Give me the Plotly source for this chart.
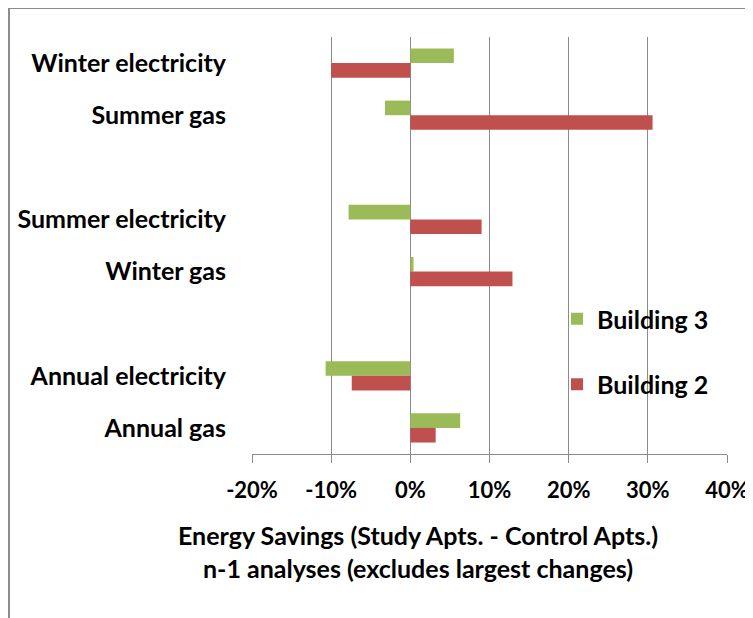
import plotly.graph_objects as go

categories = ["Winter electricity", "Summer gas", " ", "Summer electricity", "Winter gas", "  ",
              "Annual electricity", "Annual gas"]
building3 = [5.5, -3.2, None, -7.8, 0.4, None, -10.7, 6.3]
building2 = [-10.0, 30.6, None, 9.0, 12.9, None, -7.4, 3.2]
x_ticks = [-20, -10, 0, 10, 20, 30, 40]
x_tick_labels = ["-20%", "-10%", "0%", "10%", "20%", "30%", "40%"]

OFF = 8  # page body margin
W, H = 753 - OFF, 618 - OFF
# plot area in page pixels: x 252..727, y 37..454
L = 252 - OFF
T = 37 - OFF
R = W - (727 - OFF)
B = H - (454 - OFF)
pw, ph = W - L - R, H - T - B

font = dict(family="Lato", size=25, color="#000000", weight="bold")
tick_font = dict(family="Lato", size=22, color="#000000", weight="bold")

fig = go.Figure()
fig.add_trace(go.Bar(y=categories, x=building3, orientation="h", name="Building 3",
                     marker=dict(color="#9BBB59", line=dict(width=0)), legendgroup="b3"))
fig.add_trace(go.Bar(y=categories, x=building2, orientation="h", name="Building 2",
                     marker=dict(color="#C0504D", line=dict(width=0)), legendgroup="b2"))

def px_x(p):  # page pixel -> paper
    return (p - OFF - L) / pw

def px_y(p):
    return (H - B - (p - OFF)) / ph

fig.update_layout(
    width=W, height=H,
    margin=dict(l=L, r=R, t=T, b=B, autoexpand=False),
    paper_bgcolor="white", plot_bgcolor="white",
    barmode="group", bargap=0.44, bargroupgap=0,
    font=font,
    showlegend=True,
    legend=dict(x=px_x(557), y=px_y(296), xanchor="left", yanchor="top",
                traceorder="grouped", tracegroupgap=30,
                font=font, bgcolor="rgba(0,0,0,0)"),
    xaxis=dict(range=[-20, 40], tickvals=x_ticks, ticktext=x_tick_labels,
               showgrid=True, gridcolor="#8a8a8a", gridwidth=1,
               zeroline=False, showline=True, linecolor="#8a8a8a", linewidth=1,
               ticks="outside", ticklen=8, tickcolor="#8a8a8a",
               tickfont=tick_font, ticklabelstandoff=9, fixedrange=True),
    yaxis=dict(type="category", categoryorder="array", categoryarray=categories,
               autorange="reversed", showgrid=False, zeroline=False, showline=False,
               ticks="", tickfont=font, ticklabelstandoff=25),
    shapes=[
        dict(type="line", xref="paper", yref="paper", x0=px_x(8), x1=px_x(770),
             y0=px_y(8), y1=px_y(8), line=dict(color="#8c8c8c", width=2)),
        dict(type="line", xref="paper", yref="paper", x0=px_x(9), x1=px_x(9),
             y0=px_y(8), y1=px_y(640), line=dict(color="#8c8c8c", width=2)),
    ],
    annotations=[
        dict(text="Energy Savings (Study Apts. - Control Apts.)<br>n-1 analyses (excludes largest changes)",
             xref="paper", yref="paper", x=px_x(418), y=px_y(551), xanchor="center", yanchor="middle",
             showarrow=False, font=font, align="center"),
    ],
)

fig.write_html("out.html")
